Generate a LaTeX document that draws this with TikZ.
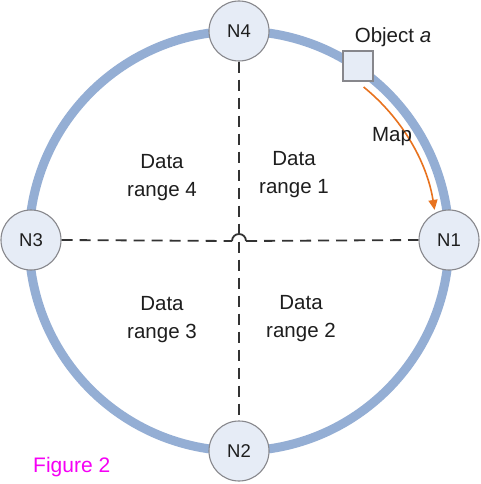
\documentclass[tikz,border=0pt]{standalone}
\usepackage{fontspec}
\setmainfont{Liberation Sans}
\usetikzlibrary{arrows.meta}
\definecolor{ringblue}{RGB}{148,174,212}
\definecolor{nodefill}{RGB}{230,236,246}
\definecolor{nodeedge}{RGB}{135,135,140}
\definecolor{maporange}{RGB}{232,114,30}
\definecolor{txt}{RGB}{30,30,30}
\definecolor{figmag}{RGB}{245,0,245}
\tikzset{
  ring/.style={draw=ringblue, line width=9pt},
  nnode/.style={circle, draw=nodeedge, line width=1.1pt, fill=nodefill, minimum size=60pt, inner sep=0pt, font=\fontsize{18.5}{20}\selectfont, text=txt},
  objbox/.style={rectangle, draw=nodeedge, line width=1.1pt, fill=nodefill, minimum size=30pt, inner sep=0pt},
  dashline/.style={draw=black!80, line width=1.8pt, dash pattern=on 11pt off 7pt},
  hopline/.style={draw=black!80, line width=1.8pt},
  rangelbl/.style={align=center, font=\fontsize{20.5}{28}\selectfont, text=txt, inner sep=0pt, anchor=base},
  lbl/.style={font=\fontsize{20.5}{22}\selectfont, text=txt, inner sep=0pt, anchor=base},
  maparrow/.style={draw=maporange, line width=1.6pt, -{Triangle[length=10pt,width=9pt]}}
}
\begin{document}
\begin{tikzpicture}[x=1pt,y=-1pt]
\useasboundingbox[fill=white] (0,0) rectangle (480,484);
\draw[ring] (239,241) circle (210pt);
\coordinate (hopL) at (232,241);
\coordinate (hopR) at (246,241);
\node[nnode] (n4) at (239,31) {N4};
\node[nnode] (n2) at (239,451) {N2};
\node[nnode] (n3) at (31,240) {N3};
\node[nnode] (n1) at (449,240) {N1};
\draw[dashline] (n4.south) -- (n2.north);
\draw[dashline] (n3.east) -- (hopL);
\draw[dashline] (hopR) -- (n1.west);
\draw[hopline] (hopL) arc[start angle=180, end angle=360, radius=7];
\node[objbox] (obj) at (358,66) {};
\node[lbl] (objlbl) at (393,43) {Object \textit{a}};
\coordinate (mapstart) at (363.6,87);
\draw[maparrow] (mapstart) arc[start angle=-51, end angle=-9, radius=198];
\node[lbl] (maplbl) at (392,141) {Map};
\node[rangelbl] (r4) at (162,196) {Data\\range 4};
\node[rangelbl] (r1) at (294,193) {Data\\range 1};
\node[rangelbl] (r3) at (162,338) {Data\\range 3};
\node[rangelbl] (r2) at (301,337) {Data\\range 2};
\node[lbl, anchor=base west, text=figmag, font=\fontsize{21}{22}\selectfont] (fig) at (33,472) {Figure 2};
\end{tikzpicture}
\end{document}
